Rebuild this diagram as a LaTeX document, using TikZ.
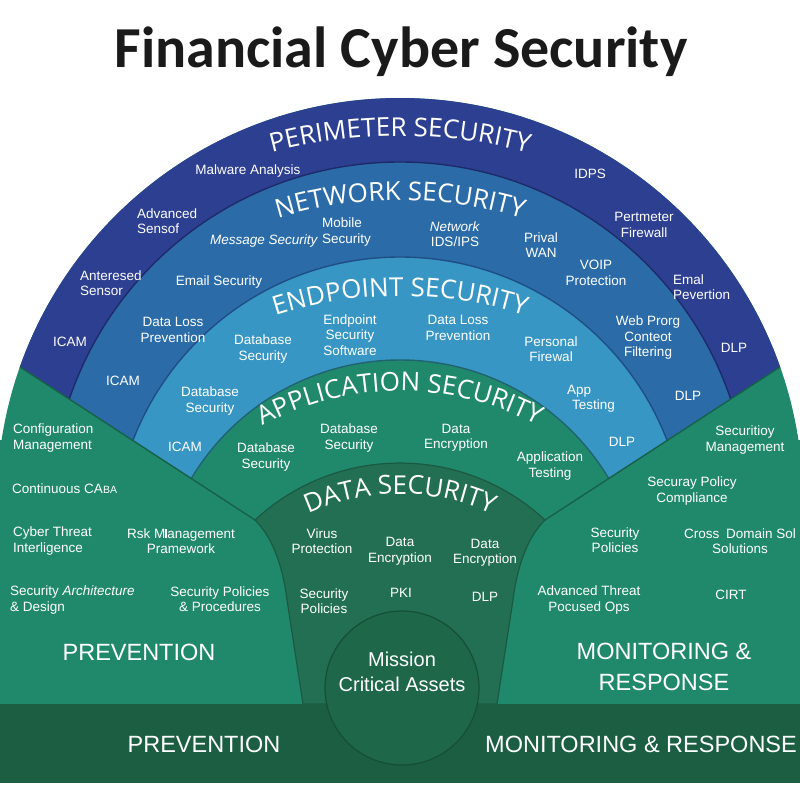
\documentclass[tikz,border=0pt]{standalone}
\usepackage{fontspec}
\setmainfont{Liberation Sans}
\newfontfamily\headfont{Open Sans}
\newfontfamily\titlefont{Carlito}
\usetikzlibrary{decorations.text}

\definecolor{cperim}{HTML}{2D3F91}
\definecolor{cperimd}{HTML}{1E2B6A}
\definecolor{cnet}{HTML}{2B6CA8}
\definecolor{cnetd}{HTML}{1F4E85}
\definecolor{cend}{HTML}{3896C4}
\definecolor{cendd}{HTML}{1F6470}
\definecolor{cgreen}{HTML}{21896B}
\definecolor{cgreend}{HTML}{17604A}
\definecolor{cdata}{HTML}{226F53}
\definecolor{cdatad}{HTML}{1A5A41}
\definecolor{cband}{HTML}{1B5E42}
\definecolor{ccore}{HTML}{1E6749}
\definecolor{ccored}{HTML}{164E37}
\definecolor{ctitle}{HTML}{1A1A1A}

\newcommand\lblf{\fontsize{13.5}{15.5}\selectfont}
\newcommand\hdf{\headfont\fontsize{26}{26}\selectfont}
\newcommand\bigf{\fontsize{23.5}{31}\selectfont}

\begin{document}
\begin{tikzpicture}[x=1pt,y=1pt,
  lbl/.style={font=\lblf, text=white, align=center, inner sep=0pt},
  lbll/.style={lbl, align=left, anchor=west},
  big/.style={font=\bigf, text=white, align=center, inner sep=0pt},
  arctext/.style={decorate, decoration={text along path, text align=center, text={|\hdf\color{white}|#1}}},
  ring/.style={line width=1.4pt}]

\useasboundingbox (0,0) rectangle (800,-800);
\fill[white] (0,0) rectangle (800,-800);

% green base (stops at the band)
\begin{scope}
  \clip (0,0) rectangle (800,-704);
  \fill[cgreen] (400,-501) circle[radius=403];
  \fill[cgreen] (0,-440) rectangle (800,-704);
\end{scope}

% blue rings
\begin{scope}
  \clip (0,-354) -- (400,-614) -- (800,-354) -- (800,0) -- (0,0) -- cycle;
  \fill[cperim] (400,-501) circle[radius=403];
  \filldraw[fill=cnet, draw=cperimd, ring] (400,-511) circle[radius=349];
  \filldraw[fill=cend, draw=cnetd, ring] (400,-543) circle[radius=286];
  \filldraw[fill=cgreen, draw=cendd, ring] (400,-603) circle[radius=243];
\end{scope}

% diagonals
\coordinate (dl1) at (20,-367);
\coordinate (dl2) at (255,-520);
\coordinate (dr1) at (780,-367);
\coordinate (dr2) at (545,-520);
\draw[cgreend, line width=1.4pt] (dl1) -- (dl2);
\draw[cgreend, line width=1.4pt] (dr1) -- (dr2);

% data wedge
\filldraw[fill=cdata, draw=cdatad, line width=1.2pt]
  (dl2) arc[start angle=132.9, end angle=47.1, radius=213]
  .. controls (530,-535) and (518,-560) .. (513,-600) -- (497,-704)
  -- (303,-704) -- (287,-600) .. controls (282,-560) and (270,-535) .. (dl2) -- cycle;

% band
\fill[cband] (0,-704) rectangle (800,-783);

% core
\filldraw[fill=ccore, draw=ccored, line width=1.2pt] (402,-688) circle[radius=77];

% title
\node[font=\titlefont\bfseries\fontsize{58}{58}\selectfont, text=ctitle, anchor=base, inner sep=0pt] (title) at (401,-67) {Financial Cyber Security};

% arc headings
\path[arctext={PERIMETER SECURITY}] (400,-636) ++(115:500) arc[start angle=115, end angle=65, radius=500];
\path[arctext={NETWORK SECURITY}] (400,-618) ++(118:418) arc[start angle=118, end angle=62, radius=418];
\path[arctext={ENDPOINT SECURITY}] (400,-704) ++(118:408) arc[start angle=118, end angle=62, radius=408];
\path[arctext={APPLICATION SECURITY}] (400,-681) ++(130:290) arc[start angle=130, end angle=50, radius=290];
\path[arctext={DATA SECURITY}] (400,-717) ++(130:223) arc[start angle=130, end angle=50, radius=223];

% perimeter labels
\node[lbl] (p1) at (248,-171) {Malware Analysis};
\node[lbll] (p2) at (137,-221) {Advanced\\Sensof};
\node[lbll] (p3) at (80,-283) {Anteresed\\Sensor};
\node[lbl] (p4) at (70,-342) {ICAM};
\node[lbl] (p5) at (590,-174) {IDPS};
\node[lbl] (p6) at (644,-225) {Pertmeter\\Firewall};
\node[lbll] (p7) at (673,-287) {Emal\\Pevertion};
\node[lbl] (p8) at (734,-348) {DLP};

% network labels
\node[lbl] (n1) at (264,-241) {\textit{Message Security}};
\node[lbll] (n2) at (322,-232) {Mobile\\Security};
\node[lbl] (n3) at (455,-234) {\textit{Network}\\IDS/IPS};
\node[lbl] (n4) at (541,-245) {Prival\\WAN};
\node[lbl] (n5) at (596,-273) {VOIP\\Protection};
\node[lbl] (n6) at (219,-282) {Email Security};
\node[lbl] (n7) at (173,-330) {Data Loss\\Prevention};
\node[lbl] (n8) at (648,-338) {Web Prorg\\Conteot\\Filtering};
\node[lbl] (n9) at (123,-381) {ICAM};
\node[lbl] (n10) at (688,-396) {DLP};

% endpoint labels
\node[lbl] (e1) at (263,-349) {Database\\Security};
\node[lbl] (e2) at (350,-335) {Endpoint\\Security\\Software};
\node[lbl] (e3) at (458,-328) {Data Loss\\Prevention};
\node[lbl] (e4) at (551,-349) {Personal\\Firewal};
\node[lbl] (e5) at (210,-401) {Database\\Security};
\node[lbl] (e6) at (185,-447) {ICAM};
\node[lbll] (e7) at (567,-399) {App\\\hspace*{5pt}Testing};
\node[lbl] (e8) at (622,-442) {DLP};

% application labels
\node[lbl] (a1) at (266,-457) {Database\\Security};
\node[lbl] (a2) at (349,-438) {Database\\Security};
\node[lbl] (a3) at (456,-438) {Data\\Encryption};
\node[lbl] (a4) at (550,-466) {Application\\Testing};

% data labels
\node[lbl] (d1) at (322,-541) {Virus\\Protection};
\node[lbl] (d2) at (400,-551) {Data\\Encryption};
\node[lbl] (d3) at (485,-553) {Data\\Encryption};
\node[lbl] (d4) at (324,-601) {Security\\Policies};
\node[lbl] (d5) at (401,-593) {PKI};
\node[lbl] (d6) at (485,-597) {DLP};

% prevention labels
\node[lbll] (v1) at (13,-438) {Configuration\\Management};
\node[lbll] (v2) at (12,-489) {Continuous CA{\fontsize{10.5}{12}\selectfont BA}};
\node[lbll] (v3) at (13,-541) {Cyber Threat\\Interligence};
\node[lbl] (v4) at (181,-541) {Rsk M\rule{2pt}{9.5pt}anagement\\Pramework};
\node[lbll] (v5) at (10,-600) {Security \textit{Architecture}\\\& Design};
\node[lbl] (v6) at (220,-599) {Security Policies\\\& Procedures};
\node[big] (v7) at (139,-652) {PREVENTION};

% monitoring labels
\node[lbl] (m1) at (745,-440) {Securitioy\\Management};
\node[lbl] (m2) at (692,-491) {Securay Policy\\Compliance};
\node[lbl] (m3) at (615,-540) {Security\\Policies};
\node[lbl] (m4) at (740,-541) {Cross\enspace Domain Sol\\Solutions};
\node[lbl] (m5) at (589,-600) {Advanced Threat\\Pocused Ops};
\node[lbl] (m6) at (731,-595) {CIRT};
\node[big] (m7) at (664,-667) {MONITORING \&\\RESPONSE};

% band labels
\node[big] (b1) at (204,-744) {PREVENTION};
\node[big] (b2) at (641,-744) {MONITORING \& RESPONSE};

% core
\node[font=\fontsize{20}{25}\selectfont, text=white, align=center, inner sep=0pt] (core) at (402,-672) {Mission\\Critical Assets};

\end{tikzpicture}
\end{document}
